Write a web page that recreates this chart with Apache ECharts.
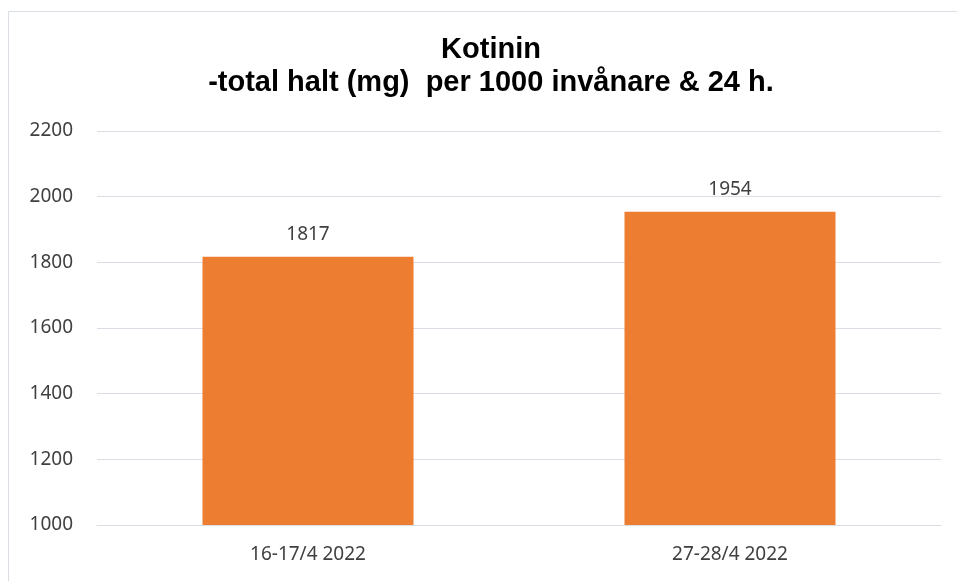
<!DOCTYPE html>
<html>
<head>
<meta charset="utf-8">
<script src="https://cdn.jsdelivr.net/npm/echarts@6/dist/echarts.min.js"></script>
<style>
  html, body { margin: 0; padding: 0; overflow: hidden; background: #fff; }
  #chart { width: 982px; height: 581px; }
</style>
</head>
<body>
<div id="chart"></div>
<script>
// data
var categories = ['16-17/4 2022', '27-28/4 2022'];
var values = [1817, 1954];
var yTicks = { min: 1000, max: 2200, step: 200 };

var chart = echarts.init(document.getElementById('chart'));
var labelFont = 'Noto Sans';
var option = {
	backgroundColor: '#fff',
	animation: false,
	title: {
		text: 'Kotinin\n-total halt (mg)  per 1000 invånare & 24 h.',
		left: 'center',
		top: 28,
		textStyle: {
			fontFamily: 'Liberation Sans',
			fontWeight: 'bold',
			fontSize: 29,
			lineHeight: 33,
			color: '#000'
		}
	},
	graphic: [{
		type: 'rect',
		shape: { x: 8.5, y: 11.5, width: 1200, height: 800 },
		style: { fill: 'none', stroke: '#d9dde4', lineWidth: 1 },
		silent: true,
		z: -1
	}],
	grid: {
		left: 97,
		right: 41,
		top: 131,
		bottom: 56
	},
	xAxis: {
		type: 'category',
		data: categories,
		axisTick: { show: false },
		axisLine: { lineStyle: { color: '#d9dde4', width: 1 } },
		axisLabel: {
			margin: 20,
			fontFamily: labelFont,
			fontSize: 19,
			color: '#404040'
		}
	},
	yAxis: {
		type: 'value',
		min: yTicks.min,
		max: yTicks.max,
		interval: yTicks.step,
		axisLine: { show: false },
		axisTick: { show: false },
		splitLine: { lineStyle: { color: '#d9dde4', width: 1 } },
		axisLabel: {
			margin: 24,
			fontFamily: labelFont,
			fontSize: 19,
			color: '#404040',
			formatter: function (v) { return String(v); }
		}
	},
	series: [{
		type: 'bar',
		data: values,
		barWidth: '50%',
		itemStyle: { color: '#ED7D31' },
		label: {
			show: true,
			position: 'top',
			distance: 13,
			fontFamily: labelFont,
			fontSize: 19,
			color: '#404040'
		}
	}]
};
chart.setOption(option);
</script>
</body>
</html>
